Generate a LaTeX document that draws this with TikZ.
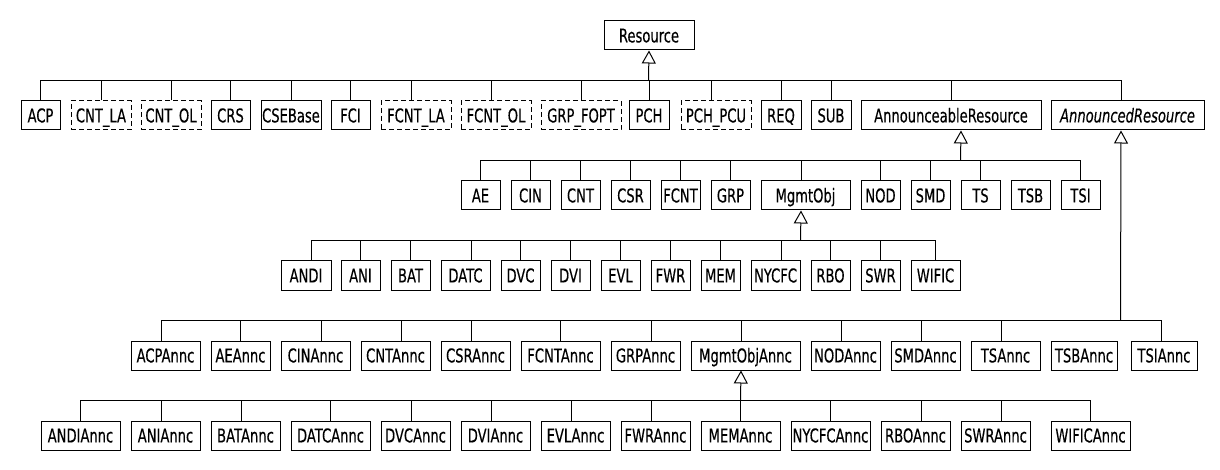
\documentclass[tikz,border=0pt]{standalone}
\usepackage{fontspec}
\newfontfamily\umlfont[FakeStretch=0.69,FakeBold=0.3]{DejaVu Sans}
\usetikzlibrary{arrows.meta}
\begin{document}
\begin{tikzpicture}[x=1pt,y=-1pt,
  cls/.style={draw, line width=1pt, inner sep=0pt, minimum height=29pt,
    text height=13.8pt, text depth=0pt, anchor=north west,
    font=\umlfont\fontsize{19}{21}\selectfont},
  dcls/.style={cls, dash pattern=on 5pt off 3pt},
  link/.style={line width=1pt},
  gen/.style={line width=1pt, -{Triangle[open, length=13pt, width=14pt, fill=white]}}]
\fill[white] (0,0) rectangle (1220,470);
\useasboundingbox (0,0) rectangle (1220,470);
\begin{scope}[shift={(0.5,0.5)}]
% row 0
\node[cls, minimum width=90pt] (Res) at (603,20) {Resource};

% row 1
\node[cls, minimum width=39pt] (ACP) at (20,100) {ACP};
\node[dcls, minimum width=60pt] (CNTLA) at (70,100) {CNT\_LA};
\node[dcls, minimum width=60pt] (CNTOL) at (140,100) {CNT\_OL};
\node[cls, minimum width=39pt] (CRS) at (210,100) {CRS};
\node[cls, minimum width=60pt] (CSEBase) at (260,100) {CSEBase};
\node[cls, minimum width=39pt] (FCI) at (330,100) {FCI};
\node[dcls, minimum width=70pt] (FCNTLA) at (380,100) {FCNT\_LA};
\node[dcls, minimum width=70pt] (FCNTOL) at (460,100) {FCNT\_OL};
\node[dcls, minimum width=80pt] (GRPFOPT) at (540,100) {GRP\_FOPT};
\node[cls, minimum width=40pt] (PCH) at (628,100) {PCH};
\node[dcls, minimum width=70pt] (PCHPCU) at (680,100) {PCH\_PCU};
\node[cls, minimum width=40pt] (REQ) at (760,100) {REQ};
\node[cls, minimum width=40pt] (SUB) at (810,100) {SUB};
\node[cls, minimum width=180pt] (AR) at (860,100) {AnnounceableResource};
\node[cls, minimum width=153pt] (AnnR) at (1050,100) {\itshape AnnouncedResource};

% row 2
\node[cls, minimum width=39pt] (AE) at (460,180) {AE};
\node[cls, minimum width=39pt] (CIN) at (510,180) {CIN};
\node[cls, minimum width=39pt] (CNT) at (560,180) {CNT};
\node[cls, minimum width=39pt] (CSR) at (610,180) {CSR};
\node[cls, minimum width=39pt] (FCNT) at (660,180) {FCNT};
\node[cls, minimum width=39pt] (GRP) at (710,180) {GRP};
\node[cls, minimum width=89pt] (MgmtObj) at (760,180) {MgmtObj};
\node[cls, minimum width=39pt] (NOD) at (860,180) {NOD};
\node[cls, minimum width=39pt] (SMD) at (910,180) {SMD};
\node[cls, minimum width=39pt] (TS) at (960,180) {TS};
\node[cls, minimum width=39pt] (TSB) at (1010,180) {TSB};
\node[cls, minimum width=39pt] (TSI) at (1060,180) {TSI};

% row 3
\node[cls, minimum width=50pt] (ANDI) at (280,260) {ANDI};
\node[cls, minimum width=39pt] (ANI) at (340,260) {ANI};
\node[cls, minimum width=39pt] (BAT) at (390,260) {BAT};
\node[cls, minimum width=49pt] (DATC) at (440,260) {DATC};
\node[cls, minimum width=39pt] (DVC) at (500,260) {DVC};
\node[cls, minimum width=39pt] (DVI) at (550,260) {DVI};
\node[cls, minimum width=39pt] (EVL) at (600,260) {EVL};
\node[cls, minimum width=39pt] (FWR) at (650,260) {FWR};
\node[cls, minimum width=39pt] (MEM) at (700,260) {MEM};
\node[cls, minimum width=49pt] (NYCFC) at (750,260) {NYCFC};
\node[cls, minimum width=39pt] (RBO) at (810,260) {RBO};
\node[cls, minimum width=39pt] (SWR) at (860,260) {SWR};
\node[cls, minimum width=49pt] (WIFIC) at (910,260) {WIFIC};

% row 4
\node[cls, minimum width=69pt] (ACPAnnc) at (130,340) {ACPAnnc};
\node[cls, minimum width=59pt] (AEAnnc) at (210,340) {AEAnnc};
\node[cls, minimum width=69pt] (CINAnnc) at (280,340) {CINAnnc};
\node[cls, minimum width=69pt] (CNTAnnc) at (360,340) {CNTAnnc};
\node[cls, minimum width=69pt] (CSRAnnc) at (440,340) {CSRAnnc};
\node[cls, minimum width=79pt] (FCNTAnnc) at (520,340) {FCNTAnnc};
\node[cls, minimum width=69pt] (GRPAnnc) at (610,340) {GRPAnnc};
\node[cls, minimum width=109pt] (MgmtObjAnnc) at (690,340) {MgmtObjAnnc};
\node[cls, minimum width=69pt] (NODAnnc) at (810,340) {NODAnnc};
\node[cls, minimum width=69pt] (SMDAnnc) at (890,340) {SMDAnnc};
\node[cls, minimum width=69pt] (TSAnnc) at (970,340) {TSAnnc};
\node[cls, minimum width=66pt] (TSBAnnc) at (1050,340) {TSBAnnc};
\node[cls, minimum width=66pt] (TSIAnnc) at (1130,340) {TSIAnnc};

% row 5
\node[cls, minimum width=79pt] (ANDIAnnc) at (40,420) {ANDIAnnc};
\node[cls, minimum width=69pt] (ANIAnnc) at (130,420) {ANIAnnc};
\node[cls, minimum width=69pt] (BATAnnc) at (210,420) {BATAnnc};
\node[cls, minimum width=79pt] (DATCAnnc) at (290,420) {DATCAnnc};
\node[cls, minimum width=69pt] (DVCAnnc) at (380,420) {DVCAnnc};
\node[cls, minimum width=69pt] (DVIAnnc) at (460,420) {DVIAnnc};
\node[cls, minimum width=69pt] (EVLAnnc) at (540,420) {EVLAnnc};
\node[cls, minimum width=69pt] (FWRAnnc) at (620,420) {FWRAnnc};
\node[cls, minimum width=79pt] (MEMAnnc) at (700,420) {MEMAnnc};
\node[cls, minimum width=79pt] (NYCFCAnnc) at (790,420) {NYCFCAnnc};
\node[cls, minimum width=69pt] (RBOAnnc) at (880,420) {RBOAnnc};
\node[cls, minimum width=69pt] (SWRAnnc) at (960,420) {SWRAnnc};
\node[cls, minimum width=79pt] (WIFICAnnc) at (1050,420) {WIFICAnnc};

% bus coordinates
\coordinate (b1) at (648,80);
\coordinate (b2) at (960,160);
\coordinate (b3) at (800,240);
\coordinate (b4) at (1120,320);
\coordinate (b5) at (740,400);

% generalisation trunks
\draw[gen] (b1) -- (Res.south);
\draw[gen] (b2) -- ([xshift=10pt]AR.south);
\draw[gen] (b3) -- ([xshift=-4.5pt]MgmtObj.south);
\draw[gen] (b4) -- ([xshift=-6.5pt]AnnR.south);
\draw[gen] (b5) -- ([xshift=-4.5pt]MgmtObjAnnc.south);

% row 1 links
\foreach \n/\d in {ACP/0,CNTLA/0,CNTOL/0,CRS/0,CSEBase/0,FCI/0,FCNTLA/-5,FCNTOL/-5,GRPFOPT/0,PCH/0,PCHPCU/-5,REQ/0,SUB/0,AR/0,AnnR/-6.5}
  \draw[link] ([xshift=\d pt]\n.north) |- (b1);
% row 2 links
\foreach \n/\d in {AE/0,CIN/0,CNT/0,CSR/0,FCNT/0,GRP/0,MgmtObj/-4.5,NOD/0,SMD/0,TS/0,TSI/0}
  \draw[link] ([xshift=\d pt]\n.north) |- (b2);
% row 3 links
\foreach \n/\d in {ANDI/5,ANI/0,BAT/0,DATC/5.5,DVC/0,DVI/0,EVL/0,FWR/0,MEM/0,NYCFC/5.5,RBO/0,SWR/0,WIFIC/0}
  \draw[link] ([xshift=\d pt]\n.north) |- (b3);
% row 4 links
\foreach \n/\d in {ACPAnnc/-4.5,AEAnnc/0,CINAnnc/5.5,CNTAnnc/5.5,CSRAnnc/-4.5,FCNTAnnc/0,GRPAnnc/5.5,MgmtObjAnnc/-4.5,NODAnnc/-4.5,SMDAnnc/-4.5,TSAnnc/-4.5,TSIAnnc/-3}
  \draw[link] ([xshift=\d pt]\n.north) |- (b4);
% row 5 links
\foreach \n/\d in {ANDIAnnc/0,ANIAnnc/-4.5,BATAnnc/-4.5,DATCAnnc/0,DVCAnnc/-4.5,DVIAnnc/-4.5,EVLAnnc/-4.5,FWRAnnc/-4.5,MEMAnnc/0,NYCFCAnnc/0,RBOAnnc/5.5,SWRAnnc/5.5,WIFICAnnc/0}
  \draw[link] ([xshift=\d pt]\n.north) |- (b5);
\end{scope}
\end{tikzpicture}
\end{document}
